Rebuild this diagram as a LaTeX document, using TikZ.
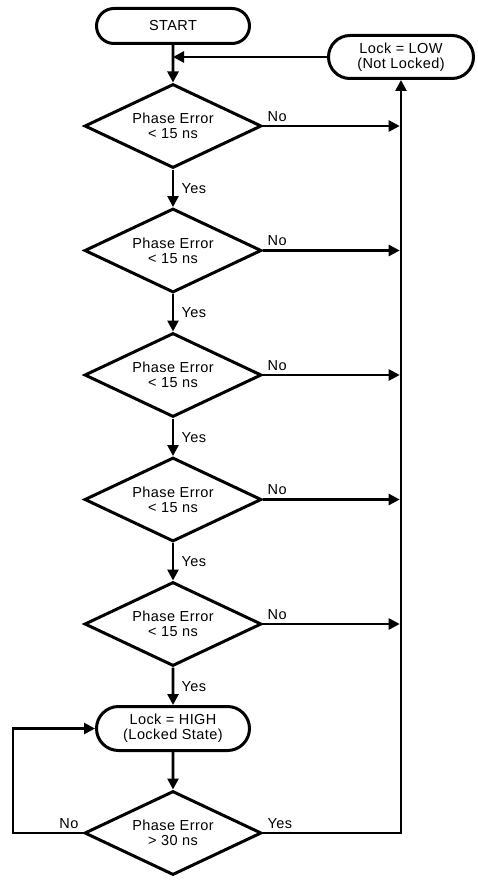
\documentclass[tikz,border=0pt]{standalone}
\usepackage{fontspec}
\setmainfont[LetterSpace=3]{Liberation Sans}
\usetikzlibrary{arrows.meta,positioning,shapes.geometric,shapes.misc}

\begin{document}
\begin{tikzpicture}[x=1pt, y=1pt, node distance=37.5pt, >={Triangle[length=11pt,width=11pt]},
    term/.style={rounded rectangle, draw, line width=3pt, minimum width=157pt, align=center, inner sep=2pt, font=\fontsize{14.5}{15}\selectfont},
    test/.style={diamond, aspect=2.1, draw, line width=3pt, minimum width=177pt, minimum height=84pt, align=center, inner sep=0pt, font=\fontsize{14.5}{15}\selectfont},
    flow/.style={line width=2.6pt},
    lbl/.style={font=\fontsize{14.5}{15}\selectfont}]
    \useasboundingbox (0,0) rectangle (478,-880);

    \node[term, minimum height=35pt] (start) at (173,-26) {START};
    \node[term, minimum height=43pt, minimum width=149pt] (low) at (401,-57) {Lock = LOW\\(Not Locked)};
    \node[test, below=of start] (err1) {Phase Error\\< 15 ns};
    \node[test, below=of err1] (err2) {Phase Error\\< 15 ns};
    \node[test, below=of err2] (err3) {Phase Error\\< 15 ns};
    \node[test, below=of err3] (err4) {Phase Error\\< 15 ns};
    \node[test, below=of err4] (err5) {Phase Error\\< 15 ns};
    \node[term, minimum height=44pt, below=of err5] (high) {Lock = HIGH\\(Locked State)};
    \node[test, below=of high] (err6) {Phase Error\\> 30 ns};

    % main column
    \draw[flow,->] (start) -- (err1);
    \draw[flow,->] (low.west) -- (start.south |- low.west);
    \draw[flow,->] (err1) -- node[lbl, right=4pt] {Yes} (err2);
    \draw[flow,->] (err2) -- node[lbl, right=4pt] {Yes} (err3);
    \draw[flow,->] (err3) -- node[lbl, right=4pt] {Yes} (err4);
    \draw[flow,->] (err4) -- node[lbl, right=4pt] {Yes} (err5);
    \draw[flow,->] (err5) -- node[lbl, right=4pt] {Yes} (high);
    \draw[flow,->] (high) -- (err6);

    % failed checks go back to unlocked
    \draw[flow,->,shorten >=1.3pt] (err1.east) -- node[lbl, pos=0, above right] {No} (err1.east -| low.south);
    \draw[flow,->,shorten >=1.3pt] (err2.east) -- node[lbl, pos=0, above right] {No} (err2.east -| low.south);
    \draw[flow,->,shorten >=1.3pt] (err3.east) -- node[lbl, pos=0, above right] {No} (err3.east -| low.south);
    \draw[flow,->,shorten >=1.3pt] (err4.east) -- node[lbl, pos=0, above right] {No} (err4.east -| low.south);
    \draw[flow,->,shorten >=1.3pt] (err5.east) -- node[lbl, pos=0, above right] {No} (err5.east -| low.south);

    % locked loop
    \draw[flow,->] (err6.east) -- node[lbl, pos=0, above right] {Yes} (err6.east -| low.south) -- (low.south);
    \draw[flow,->] (err6.west) -- node[lbl, pos=0, above left] {No} ++(-70,0) |- (high.west);
\end{tikzpicture}
\end{document}
